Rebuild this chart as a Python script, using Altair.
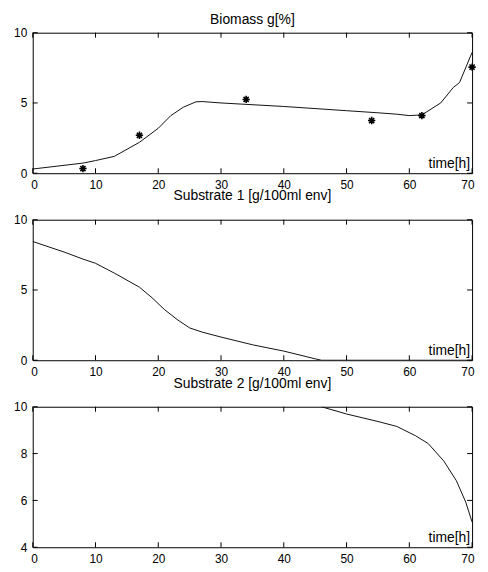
import altair as alt
import pandas as pd

# ---- data ----
bio_t = [0, 8, 10, 13, 17, 20, 22, 24, 26, 27, 30, 40, 50, 55, 58, 60, 62, 65, 67, 68, 70]
bio_v = [0.3, 0.72, 0.9, 1.2, 2.2, 3.2, 4.1, 4.7, 5.08, 5.1, 5.0, 4.75, 4.45, 4.3, 4.2, 4.1, 4.15, 5.0, 6.1, 6.45, 8.6]
meas_t = [8, 17, 34, 54, 62, 70]
meas_v = [0.33, 2.7, 5.25, 3.75, 4.1, 7.55]
s1_t = [0, 5, 8, 10, 13, 17, 19, 21, 23, 25, 27, 30, 35, 40, 45, 46, 70]
s1_v = [8.45, 7.7, 7.2, 6.9, 6.2, 5.2, 4.45, 3.6, 2.9, 2.3, 2.0, 1.65, 1.1, 0.65, 0.1, 0.0, 0.0]
s2_t = [46, 50, 55, 58, 61, 63, 65.5, 67.5, 69, 70]
s2_v = [10.0, 9.69, 9.37, 9.16, 8.76, 8.43, 7.68, 6.84, 5.92, 5.08]

x_ticks = [0, 10, 20, 30, 40, 50, 60, 70]
y_ticks_a = [0, 5, 10]
y_ticks_b = [4, 6, 8, 10]

titles = ["Biomass g[%]", "Substrate 1 [g/100ml env]", "Substrate 2 [g/100ml env]"]
x_label = "time[h]"

W, H = 444, 142
FONT = "Liberation Sans"
STAR = "M-1,0L1,0M0,-1L0,1M-0.7,-0.7L0.7,0.7M-0.7,0.7L0.7,-0.7"


def panel(line_df, title, ydom, yticks, title_y, meas_df=None):
    xs = alt.Scale(domain=[0, 70], nice=False, zero=False)
    ys = alt.Scale(domain=ydom, nice=False, zero=False)
    xax = alt.Axis(values=x_ticks, title=None, labelFlush=True, labelFlushOffset=2, labelPadding=6)
    yax = alt.Axis(values=yticks, title=None, labelPadding=6)
    X = alt.X("t:Q", scale=xs, axis=xax)
    Y = alt.Y("v:Q", scale=ys, axis=yax)

    line = alt.Chart(line_df).mark_line(color="#111", strokeWidth=1, clip=True).encode(x=X, y=Y)
    layers = [line]
    if meas_df is not None:
        pts = alt.Chart(meas_df).mark_point(shape=STAR, size=55, color="#000", strokeWidth=1.6,
                                            filled=False, opacity=1).encode(x=X, y=Y)
        layers.append(pts)

    xt = pd.DataFrame({"t": x_ticks})
    yt = pd.DataFrame({"v": yticks})
    layers += [
        alt.Chart(xt).mark_rule(color="#000", strokeWidth=1).encode(x=X, y=alt.value(H), y2=alt.value(H - 5)),
        alt.Chart(xt).mark_rule(color="#000", strokeWidth=1).encode(x=X, y=alt.value(0), y2=alt.value(5)),
        alt.Chart(yt).mark_rule(color="#000", strokeWidth=1).encode(y=Y, x=alt.value(0), x2=alt.value(5)),
        alt.Chart(yt).mark_rule(color="#000", strokeWidth=1).encode(y=Y, x=alt.value(W - 5), x2=alt.value(W)),
    ]
    lab = alt.Chart(pd.DataFrame({"label": [x_label]})).mark_text(
        align="right", baseline="alphabetic", font=FONT, fontSize=14, color="#000"
    ).encode(text="label:N", x=alt.value(W - 2), y=alt.value(H - 5))
    ttl = alt.Chart(pd.DataFrame({"label": [title]})).mark_text(
        align="center", baseline="alphabetic", font=FONT, fontSize=14, color="#000"
    ).encode(text="label:N", x=alt.value(W / 2), y=alt.value(-title_y))
    layers += [lab, ttl]

    return alt.layer(*layers).properties(width=W, height=H)


p1 = panel(pd.DataFrame({"t": bio_t, "v": bio_v}), titles[0], [0, 10], y_ticks_a, 9,
           pd.DataFrame({"t": meas_t, "v": meas_v}))
p2 = panel(pd.DataFrame({"t": s1_t, "v": s1_v}), titles[1], [0, 10], y_ticks_a, 19.5)
p3 = panel(pd.DataFrame({"t": s2_t, "v": s2_v}), titles[2], [4, 10], y_ticks_b, 18.5)

chart = alt.vconcat(p1, p2, p3, spacing=47, bounds="flush").properties(
    padding={"left": 5, "top": 1, "right": 0, "bottom": 0}
).configure_view(stroke="#000", strokeWidth=1).configure_axis(
    domain=False, ticks=False, grid=False, labelFont=FONT, labelFontSize=12,
    labelColor="#000"
)

chart.save("out.html", embed_options={"renderer": "svg", "actions": False})
